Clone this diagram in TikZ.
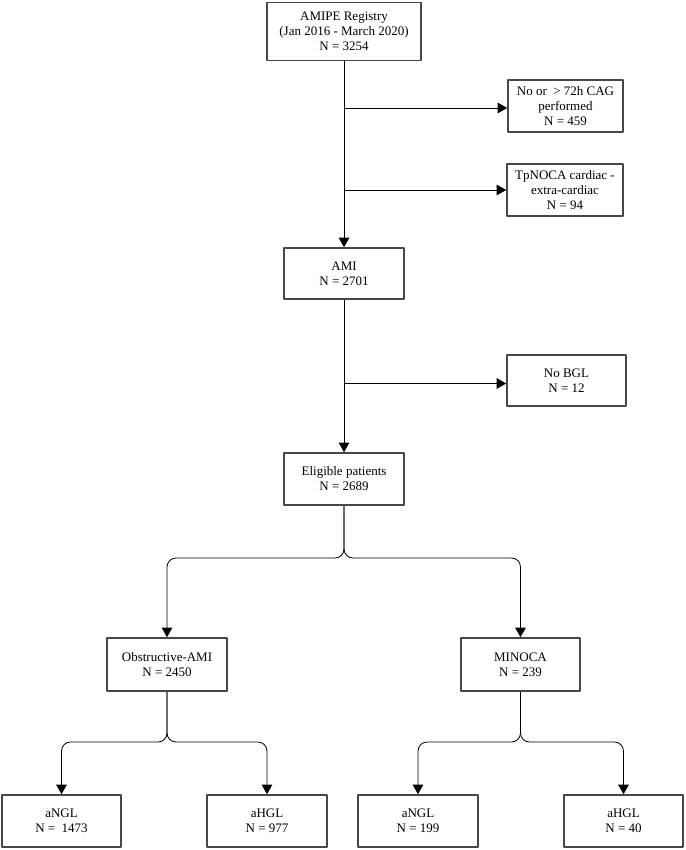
\documentclass[tikz,border=0pt]{standalone}
\usepackage{fontspec}
\setmainfont{Liberation Serif}
\usetikzlibrary{arrows.meta}
\tikzset{
  flowbox/.style={draw=black!72,line width=1.6pt,fill=white,align=center,inner sep=2pt,
    font=\fontsize{13}{15}\selectfont},
  link/.style={line width=0.8pt,-{Triangle[length=9.5pt,width=10.5pt]}},
}
\begin{document}
\begin{tikzpicture}[x=1pt,y=-1pt,line join=round]
\useasboundingbox (0,0) rectangle (685,850);
\node[flowbox,minimum width=154pt,minimum height=58pt] (reg) at (344,31.5) {AMIPE Registry\\(Jan 2016 - March 2020)\\N = 3254};
\node[flowbox,minimum width=115pt,minimum height=52pt] (cag) at (565.5,106) {No or \ > 72h CAG\\performed\\N = 459};
\node[flowbox,minimum width=116pt,minimum height=52pt] (tpn) at (565,190) {TpNOCA cardiac -\\extra-cardiac\\N = 94};
\node[flowbox,minimum width=120pt,minimum height=51pt] (ami) at (344,273.5) {AMI\\N = 2701};
\node[flowbox,minimum width=119pt,minimum height=51pt] (bgl) at (566.5,380.5) {No BGL\\N = 12};
\node[flowbox,minimum width=120pt,minimum height=52pt] (elig) at (344,479) {Eligible patients\\N = 2689};
\node[flowbox,minimum width=120pt,minimum height=53pt] (obst) at (167,664.5) {Obstructive-AMI\\N = 2450};
\node[flowbox,minimum width=119pt,minimum height=53pt] (mino) at (520.5,664.5) {MINOCA\\N = 239};
\node[flowbox,minimum width=119pt,minimum height=52pt] (ngla) at (61.5,821) {aNGL\\N = \ 1473};
\node[flowbox,minimum width=120pt,minimum height=52pt] (hgla) at (267,821) {aHGL\\N = 977};
\node[flowbox,minimum width=120pt,minimum height=52pt] (nglb) at (418,821) {aNGL\\N = 199};
\node[flowbox,minimum width=119pt,minimum height=52pt] (hglb) at (623.5,821) {aHGL\\N = 40};
\coordinate (cagin) at ([yshift=-2pt]cag.west);
\coordinate (bglin) at ([yshift=-3pt]bgl.west);
\draw[link] (reg) -- (ami);
\draw[link] (ami) -- (elig);
\draw[link] (reg.south |- cagin) -- (cagin);
\draw[link] (reg.south |- tpn.west) -- (tpn.west);
\draw[link] (ami.south |- bglin) -- (bglin);
\coordinate (esplit) at (344,558);
\coordinate (osplit) at (167,742);
\coordinate (msplit) at (520.5,742);
\draw[link,rounded corners=9pt] (elig.south) -- (esplit) -| (obst.north);
\draw[link,rounded corners=9pt] (elig.south) -- (esplit) -| (mino.north);
\draw[link,rounded corners=9pt] (obst.south) -- (osplit) -| (ngla.north);
\draw[link,rounded corners=9pt] (obst.south) -- (osplit) -| (hgla.north);
\draw[link,rounded corners=9pt] (mino.south) -- (msplit) -| (nglb.north);
\draw[link,rounded corners=9pt] (mino.south) -- (msplit) -| (hglb.north);
\end{tikzpicture}
\end{document}
